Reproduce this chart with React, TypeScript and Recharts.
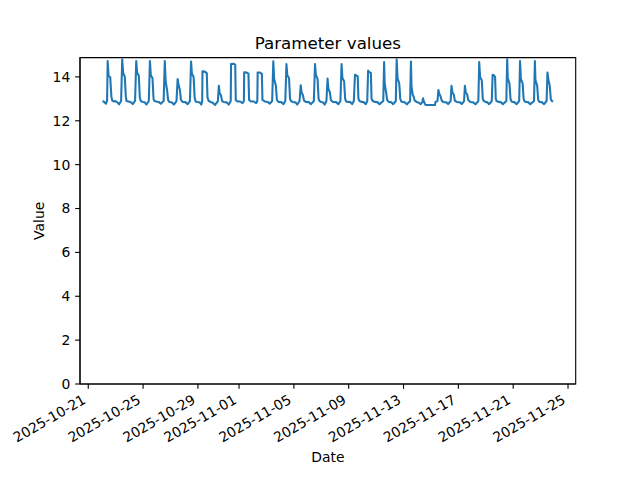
import React from "react";
import { LineChart, Line, XAxis, YAxis, ReferenceArea, Label } from "recharts";

// ---- data ----
const dates = [
  "2025-10-22", "2025-10-23", "2025-10-24", "2025-10-25", "2025-10-26", "2025-10-27",
  "2025-10-28", "2025-10-29", "2025-10-30", "2025-10-31", "2025-11-01", "2025-11-02",
  "2025-11-03", "2025-11-04", "2025-11-05", "2025-11-06", "2025-11-07", "2025-11-08",
  "2025-11-09", "2025-11-10", "2025-11-11", "2025-11-12", "2025-11-13", "2025-11-14",
  "2025-11-15", "2025-11-16", "2025-11-17", "2025-11-18", "2025-11-19", "2025-11-20",
  "2025-11-21", "2025-11-22", "2025-11-23",
];

// [hour of day, value]
const dailyReadings: [number, number][][] = [
  [[1, 12.9], [4, 12.86], [7, 12.78], [9, 12.92], [10, 14.72], [11.5, 14.05], [14.5, 13.98], [16.5, 13.1], [18, 12.92], [21, 12.88], [23.5, 12.9]],
  [[3, 12.84], [6, 12.75], [9.5, 12.9], [11.5, 14.8], [13, 14.2], [16, 14.0], [17.8, 13.1], [19, 12.9], [22.5, 12.88]],
  [[2, 12.86], [6, 12.76], [10, 12.92], [12, 14.72], [13.5, 14.2], [16.5, 14.05], [18.3, 13.05], [20, 12.9], [23, 12.86]],
  [[3, 12.84], [6, 12.74], [10, 12.9], [12, 14.72], [13.5, 14.07], [16.5, 13.95], [18.3, 13.0], [20, 12.9], [23, 12.88]],
  [[3, 12.86], [7, 12.78], [12, 12.9], [14, 14.72], [15.5, 13.8], [18, 13.4], [19.8, 12.95], [22, 12.86]],
  [[2, 12.84], [6, 12.74], [10.5, 12.9], [12.5, 13.9], [14, 13.65], [16.5, 13.4], [18.3, 12.95], [21, 12.86]],
  [[2, 12.85], [6, 12.76], [10, 12.9], [12, 14.7], [13.5, 14.15], [16.5, 14.0], [18.3, 13.05], [20, 12.88], [23, 12.86]],
  [[3, 12.84], [6, 12.74], [7.5, 12.9], [8, 14.26], [12, 14.24], [15.5, 14.17], [16.8, 13.05], [19, 12.9], [22, 12.86]],
  [[2, 12.82], [6, 12.72], [11, 12.9], [12.7, 13.6], [14, 13.25], [16.5, 13.15], [18.3, 12.9], [21, 12.86]],
  [[2, 12.84], [6, 12.74], [9.5, 12.9], [10, 14.59], [14, 14.6], [17.3, 14.56], [18.3, 12.95], [21, 12.88]],
  [[2, 12.88], [6, 12.8], [8.5, 12.9], [9, 14.21], [13, 14.2], [16.5, 14.15], [17.6, 12.95], [21, 12.88]],
  [[2, 12.88], [6, 12.8], [8, 12.9], [8.6, 14.2], [12, 14.2], [16, 14.14], [17, 12.95], [21, 12.88]],
  [[2, 12.86], [6, 12.78], [10, 12.9], [12, 14.71], [13.5, 13.9], [16.5, 13.6], [18.3, 12.95], [21, 12.86]],
  [[2, 12.85], [6, 12.76], [9, 12.9], [11, 14.59], [12.5, 14.07], [15.5, 13.95], [17.3, 13.0], [19, 12.9], [22, 12.86]],
  [[3, 12.84], [6, 12.74], [10, 12.9], [12, 13.62], [13.5, 13.3], [16, 13.15], [17.8, 12.92], [21, 12.86]],
  [[2, 12.85], [6, 12.76], [11, 12.9], [13, 14.59], [14.5, 14.1], [17.5, 13.9], [19.3, 13.0], [21, 12.9], [23.5, 12.86]],
  [[3, 12.84], [6, 12.74], [9, 12.9], [11, 13.92], [12.5, 13.45], [15, 13.3], [16.8, 12.95], [20, 12.86]],
  [[2, 12.85], [6, 12.76], [9.5, 12.9], [11.5, 14.59], [13, 13.95], [16, 13.8], [17.8, 13.0], [19.5, 12.88], [23, 12.86]],
  [[3, 12.85], [6, 12.76], [9, 12.9], [11, 14.1], [13, 14.07], [15.8, 14.02], [17, 13.0], [19, 12.9], [22, 12.86]],
  [[2, 12.85], [6, 12.76], [8.5, 12.9], [10, 14.29], [12, 14.22], [14.8, 14.18], [16, 13.0], [18, 12.9], [22, 12.86]],
  [[2, 12.85], [6, 12.76], [12.5, 12.9], [14, 14.68], [15, 13.7], [17.5, 13.3], [19.3, 12.95], [22, 12.86]],
  [[2, 12.85], [6, 12.76], [10.5, 12.9], [12, 14.8], [13.5, 13.95], [16.5, 13.7], [18.3, 13.0], [20, 12.88], [23, 12.86]],
  [[2, 12.84], [6, 12.75], [11.5, 12.9], [13, 14.7], [14, 13.55], [16, 13.2], [17.8, 13.1], [19.5, 12.92], [23, 12.86]],
  [[3, 12.82], [6, 12.76], [9, 12.85], [10, 13.02], [11.5, 12.9], [14, 12.74], [15, 12.72], [22, 12.72]],
  [[3, 12.72], [7, 12.72], [8, 12.86], [11.5, 12.9], [13, 13.4], [14.5, 13.25], [17, 13.1], [18.8, 12.92], [21.5, 12.86]],
  [[3, 12.84], [6, 12.76], [10.5, 12.9], [12, 13.6], [13.5, 13.3], [16, 13.2], [17.8, 12.92], [21, 12.86]],
  [[3, 12.84], [6, 12.76], [10, 12.9], [11.5, 13.6], [13, 13.3], [15.5, 13.2], [17.3, 12.95], [21, 12.86]],
  [[2, 12.84], [6, 12.75], [11, 12.9], [12.5, 14.68], [14, 14.0], [17, 13.85], [18.8, 13.0], [20.5, 12.9], [23.5, 12.86]],
  [[2, 12.85], [6, 12.76], [10.5, 12.9], [12, 14.1], [14, 14.08], [16.3, 14.0], [17.5, 13.0], [19, 12.9], [22, 12.86]],
  [[2, 12.85], [6, 12.76], [12, 12.9], [13.5, 14.82], [14.5, 13.95], [17.5, 13.7], [19.3, 13.0], [21, 12.88], [23.5, 12.86]],
  [[2, 12.85], [6, 12.76], [10.5, 12.9], [12, 14.72], [13.5, 13.9], [16.5, 13.7], [18.3, 13.0], [20, 12.88], [23, 12.86]],
  [[2, 12.85], [6, 12.76], [12.5, 12.9], [14, 14.72], [15, 13.85], [18, 13.6], [19.8, 12.95], [22, 12.86]],
  [[2, 12.85], [6, 12.76], [10.5, 12.9], [12, 14.2], [13.5, 13.9], [16, 13.6], [17.8, 13.0], [19.5, 12.9], [22, 12.88]],
];

const xTickLabels = [
  "2025-10-21", "2025-10-25", "2025-10-29", "2025-11-01", "2025-11-05",
  "2025-11-09", "2025-11-13", "2025-11-17", "2025-11-21", "2025-11-25",
];
const yTicks = [0, 2, 4, 6, 8, 10, 12, 14];
const yMax = 14.88;

// ---- derived ----
const HOUR = 3600000;
const toMs = (d: string) => Date.parse(d + "T00:00:00Z");
const data = dates.flatMap((d, i) =>
  dailyReadings[i].map(([h, v]) => ({ t: toMs(d) + h * HOUR, value: v }))
);
const tMin = data[0].t;
const tMax = data[data.length - 1].t;
const pad = (tMax - tMin) * 0.05;
const xDomain: [number, number] = [tMin - pad, tMax + pad];
const xTicks = xTickLabels.map(toMs);

const fmt = (ms: number) => new Date(ms).toISOString().slice(0, 10);

const FONT = "'DejaVu Sans', sans-serif";
const PLOT_LEFT = 80;
const PLOT_RIGHT = 575.7;
const PLOT_TOP = 57.6;
const PLOT_BOTTOM = 384;

const DateTick = (props: any) => {
  const { x, payload } = props;
  return (
    <g transform={`translate(${x - 1.5},${PLOT_BOTTOM + 18.5}) rotate(-30)`}>
      <text x={0} y={0} textAnchor="end" fontFamily={FONT} fontSize={13.9} fill="#000">
        {fmt(payload.value)}
      </text>
    </g>
  );
};

export default function App() {
  const cx = (PLOT_LEFT + PLOT_RIGHT) / 2;
  const cy = (PLOT_TOP + PLOT_BOTTOM) / 2;
  return (
    <div style={{ position: "absolute", left: 0, top: 0, width: 640, height: 480, background: "#fff" }}>
      <LineChart
        width={640}
        height={480}
        data={data}
        margin={{ top: PLOT_TOP, right: 640 - PLOT_RIGHT, bottom: 16, left: 20 }}
      >
        <XAxis
          dataKey="t"
          type="number"
          domain={xDomain}
          allowDataOverflow
          ticks={xTicks}
          interval={0}
          height={80}
          tick={<DateTick />}
          tickSize={4.86}
          tickLine={{ stroke: "#000", strokeWidth: 1.1 }}
          axisLine={{ stroke: "#000", strokeWidth: 1.1 }}
        >
          <Label
            content={() => (
              <g>
                <text x={cx} y={462} textAnchor="middle" fontFamily={FONT} fontSize={13.9} fill="#000">
                  Date
                </text>
                <text x={cx} y={49} textAnchor="middle" fontFamily={FONT} fontSize={16.7} fill="#000">
                  Parameter values
                </text>
              </g>
            )}
          />
        </XAxis>
        <YAxis
          type="number"
          domain={[0, yMax]}
          allowDataOverflow
          ticks={yTicks}
          interval={0}
          width={60}
          tickSize={4.86}
          tickMargin={4.86}
          tick={{ fontFamily: FONT, fontSize: 13.9, fill: "#000" }}
          tickLine={{ stroke: "#000", strokeWidth: 1.1 }}
          axisLine={{ stroke: "#000", strokeWidth: 1.1 }}
        >
          <Label
            content={() => (
              <text
                x={0}
                y={0}
                transform={`translate(44,${cy}) rotate(-90)`}
                textAnchor="middle"
                fontFamily={FONT}
                fontSize={13.9}
                fill="#000"
              >
                Value
              </text>
            )}
          />
        </YAxis>
        <ReferenceArea
          x1={xDomain[0]}
          x2={xDomain[1]}
          y1={0}
          y2={yMax}
          fill="none"
          stroke="#000"
          strokeWidth={1.1}
          ifOverflow="visible"
        />
        <Line
          type="linear"
          dataKey="value"
          stroke="#1f77b4"
          strokeWidth={2.08}
          strokeLinejoin="round"
          dot={false}
          activeDot={false}
          isAnimationActive={false}
        />
      </LineChart>
    </div>
  );
}
